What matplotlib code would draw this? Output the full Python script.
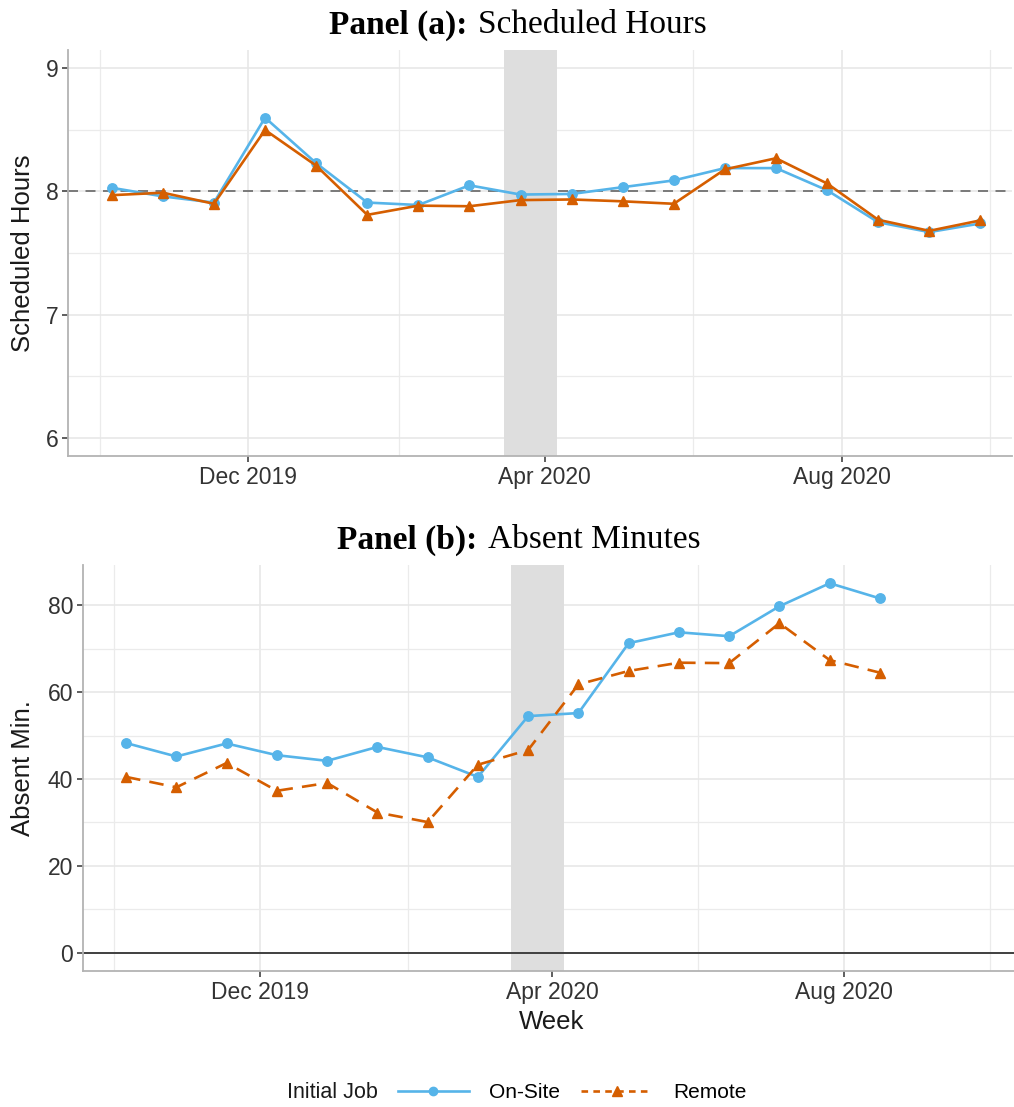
import numpy as np
import matplotlib
matplotlib.use("Agg")
import matplotlib.pyplot as plt
import matplotlib.dates as mdates
from matplotlib.lines import Line2D
from matplotlib.offsetbox import TextArea, HPacker, AnchoredOffsetbox

# data: one point every three weeks
weeks_a = np.array(['2019-10-06', '2019-10-27', '2019-11-17', '2019-12-08', '2019-12-29',
                    '2020-01-19', '2020-02-09', '2020-03-01', '2020-03-22', '2020-04-12',
                    '2020-05-03', '2020-05-24', '2020-06-14', '2020-07-05', '2020-07-26',
                    '2020-08-16', '2020-09-06', '2020-09-27'], dtype='datetime64[D]')
hours_onsite = [8.03, 7.96, 7.91, 8.60, 8.23, 7.91, 7.89, 8.05, 7.975, 7.98,
                8.035, 8.09, 8.19, 8.19, 8.01, 7.75, 7.67, 7.74]
hours_remote = [7.97, 7.99, 7.90, 8.50, 8.21, 7.81, 7.885, 7.88, 7.93, 7.935,
                7.92, 7.90, 8.18, 8.27, 8.065, 7.77, 7.68, 7.765]

weeks_b = weeks_a[:16]
absent_onsite = [48.3, 45.2, 48.2, 45.5, 44.2, 47.4, 45.0, 40.5, 54.5, 55.2,
                 71.3, 73.8, 72.9, 79.8, 85.1, 81.6]
absent_remote = [40.5, 38.1, 43.7, 37.3, 39.1, 32.3, 30.1, 43.3, 46.7, 61.8,
                 64.9, 66.8, 66.7, 75.9, 67.4, 64.5]

shade = np.array(['2020-03-15', '2020-04-06'], dtype='datetime64[D]')

blue = '#56B4E9'
orange = '#D55E00'
W, H = 1014, 1107

plt.rcParams['font.family'] = ['Liberation Sans', 'DejaVu Sans']

fig = plt.figure(figsize=(W / 100, H / 100), dpi=100)
ax1 = fig.add_axes([68 / W, 1 - 456 / H, (1012 - 68) / W, (456 - 50) / H])
ax2 = fig.add_axes([83 / W, 1 - 971 / H, (1014 - 83) / W, (971 - 565) / H])


def style(ax, yticks, yminor, ylim, xlim):
    ax.set_xlim(np.datetime64(xlim[0]), np.datetime64(xlim[1]))
    ax.set_ylim(*ylim)
    ax.set_yticks(yticks)
    ax.set_yticks(yminor, minor=True)
    ax.xaxis.set_major_locator(mdates.MonthLocator(bymonth=[4, 8, 12]))
    ax.xaxis.set_minor_locator(mdates.MonthLocator(bymonth=[2, 6, 10]))
    ax.xaxis.set_major_formatter(mdates.DateFormatter('%b %Y'))
    ax.set_axisbelow(True)
    ax.grid(which='major', color='#e6e6e6', lw=1.1)
    ax.grid(which='minor', color='#ebebeb', lw=0.9)
    for s in ['top', 'right']:
        ax.spines[s].set_visible(False)
    for s in ['left', 'bottom']:
        ax.spines[s].set_color('#b3b3b3')
        ax.spines[s].set_linewidth(1.3)
    ax.tick_params(which='major', length=4, width=1.1, color='#333333',
                   labelcolor='#333333', labelsize=16.5, pad=3)
    ax.tick_params(which='minor', length=0)


# Panel (a)
style(ax1, [6, 7, 8, 9], [6.5, 7.5, 8.5], (5.85, 9.15), ('2019-09-18', '2020-10-10'))
ax1.axhline(8, color='#666666', lw=1.2, dashes=(6, 4.5), zorder=0.8)
ax1.axvspan(shade[0], shade[1], color='#dedede', lw=0, zorder=1)
ax1.plot(weeks_a, hours_onsite, color=blue, lw=1.9, marker='o', ms=6.8, zorder=3)
ax1.plot(weeks_a, hours_remote, color=orange, lw=1.9, marker='^', ms=7.8, zorder=3)

# Panel (b)
style(ax2, [0, 20, 40, 60, 80], [10, 30, 50, 70], (-4.2, 89.3), ('2019-09-18', '2020-10-11'))
ax2.axvspan(shade[0], shade[1], color='#dedede', lw=0, zorder=1)
ax2.axhline(0, color='#333333', lw=1.3, zorder=2)
ax2.plot(weeks_b, absent_onsite, color=blue, lw=1.9, marker='o', ms=6.8, zorder=3)
ax2.plot(weeks_b, absent_remote, color=orange, lw=1.9, marker='^', ms=7.8,
         dashes=(5.5, 3.5), zorder=3)

# axis titles
fig.text(23 / W, 1 - 253 / H, 'Scheduled Hours', rotation=90, ha='center', va='center',
         fontsize=18.5, color='#1a1a1a')
fig.text(23 / W, 1 - 768 / H, 'Absent Min.', rotation=90, ha='center', va='center',
         fontsize=18.5, color='#1a1a1a')
fig.text(552 / W, 1 - 1022 / H, 'Week', ha='center', va='center', fontsize=18.5,
         color='#1a1a1a')


def panel_title(tag, text, x, y):
    serif = ['Liberation Serif', 'DejaVu Serif']
    t1 = TextArea(tag, textprops=dict(family=serif, weight='bold', size=24, color='black'))
    t2 = TextArea(text, textprops=dict(family=serif, size=24, color='black'))
    box = HPacker(children=[t1, t2], align='baseline', pad=0, sep=8)
    anch = AnchoredOffsetbox(loc='center', child=box, pad=0, borderpad=0, frameon=False,
                             bbox_to_anchor=(x / W, 1 - y / H),
                             bbox_transform=fig.transFigure)
    fig.add_artist(anch)


panel_title('Panel (a):', 'Scheduled Hours', 518, 25)
panel_title('Panel (b):', 'Absent Minutes', 519, 540)

# legend
handles = [Line2D([], [], color=blue, lw=1.9, marker='o', ms=6),
           Line2D([], [], color=orange, lw=1.9, marker='^', ms=7, dashes=(2.5, 2))]
fig.text(378 / W, 1 - 1093 / H, 'Initial Job', ha='right', va='center', fontsize=15.5,
         color='#1a1a1a')
fig.legend(handles, ['On-Site', 'Remote'], loc='center',
           bbox_to_anchor=(572 / W, 1 - 1093 / H), ncol=2, frameon=False, fontsize=15,
           handlelength=3.4, handletextpad=1.0, columnspacing=1.0, borderpad=0)

fig.savefig('out.png', dpi=100)
